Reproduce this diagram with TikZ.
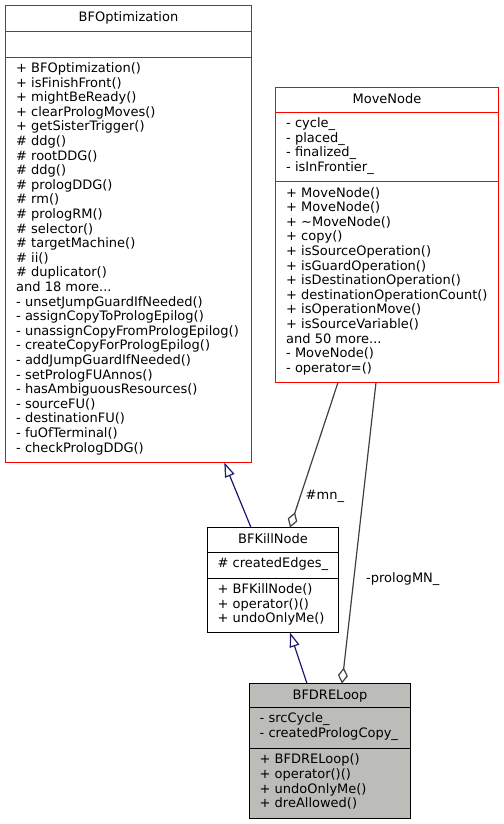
\documentclass[tikz,border=0pt]{standalone}
\usepackage{fontspec}
\setmainfont{DejaVu Sans}
\usetikzlibrary{arrows.meta,calc}
\definecolor{inhblue}{RGB}{25,25,112}
\definecolor{aggrey}{RGB}{64,64,64}
\definecolor{curfill}{RGB}{188,189,184}
\definecolor{clsred}{RGB}{255,0,0}
\newcommand\tdots{...}
\newcommand\clines[3]{%
  \foreach \t [count=\i from 0] in {#3}
    \node[txt,anchor=base west] (#1-\i) at ($(#2)+(0,14.6*\i)$) {\t};}
\begin{document}
\begin{tikzpicture}[x=1bp,y=-1bp,
  every node/.style={font=\fontsize{13bp}{14.6bp}\selectfont},
  txt/.style={inner sep=0pt},
  cls/.style={draw=clsred,line width=1.6bp,inner sep=0pt,outer sep=0pt,anchor=north west},
  clsb/.style={cls,draw=black},
  sep/.style={line width=1.6bp},
  inh/.style={draw=inhblue,line width=1.2bp,-{Triangle[open,length=14.5bp,width=10bp]}},
  agg/.style={draw=aggrey,line width=1.2bp,-{Diamond[open,length=16bp,width=10bp]}}]
\useasboundingbox (0,0) rectangle (504,824);

% BFOptimization
\node[cls,minimum width=246bp,minimum height=457bp] (bfo) at (5.5,5.5) {};
\draw[sep,clsred] ($(bfo.north west)+(0,26)$) -- ++(246,0);
\draw[sep,clsred] ($(bfo.north west)+(0,52)$) -- ++(246,0);
\node[txt,anchor=base] (bfo-title) at ($(bfo.north)+(0,16)$) {BFOptimization};
\coordinate (bfo-m) at ($(bfo.north west)+(10.5,67)$);
\clines{bfom}{bfo-m}{+ BFOptimization(),+ isFinishFront(),+ mightBeReady(),+ clearPrologMoves(),+ getSisterTrigger(),\# ddg(),\# rootDDG(),\# ddg(),\# prologDDG(),\# rm(),\# prologRM(),\# selector(),\# targetMachine(),\# ii(),\# duplicator(),and 18 more\tdots,- unsetJumpGuardIfNeeded(),- assignCopyToPrologEpilog(),- unassignCopyFromPrologEpilog(),- createCopyForPrologEpilog(),- addJumpGuardIfNeeded(),- setPrologFUAnnos(),- hasAmbiguousResources(),- sourceFU(),- destinationFU(),- fuOfTerminal(),- checkPrologDDG()}

% MoveNode
\node[cls,minimum width=223bp,minimum height=295bp] (mn) at (275.5,87.5) {};
\draw[sep,clsred] ($(mn.north west)+(0,25)$) -- ++(223,0);
\draw[sep,clsred] ($(mn.north west)+(0,94)$) -- ++(223,0);
\node[txt,anchor=base] (mn-title) at ($(mn.north)+(0,16)$) {MoveNode};
\coordinate (mn-a) at ($(mn.north west)+(10.5,40)$);
\clines{mna}{mn-a}{- cycle\_,- placed\_,- finalized\_,- isInFrontier\_}
\coordinate (mn-m) at ($(mn.north west)+(10.5,109.5)$);
\clines{mnm}{mn-m}{+ MoveNode(),+ MoveNode(),+ \textasciitilde MoveNode(),+ copy(),+ isSourceOperation(),+ isGuardOperation(),+ isDestinationOperation(),+ destinationOperationCount(),+ isOperationMove(),+ isSourceVariable(),and 50 more\tdots,- MoveNode(),- operator=()}

% BFKillNode
\node[clsb,minimum width=131bp,minimum height=105bp] (bfk) at (207.5,527.5) {};
\draw[sep] ($(bfk.north west)+(0,25)$) -- ++(131,0);
\draw[sep] ($(bfk.north west)+(0,51)$) -- ++(131,0);
\node[txt,anchor=base] (bfk-title) at ($(bfk.north)+(0,16)$) {BFKillNode};
\coordinate (bfk-a) at ($(bfk.north west)+(10,40.3)$);
\clines{bfka}{bfk-a}{\# createdEdges\_}
\coordinate (bfk-m) at ($(bfk.north west)+(10,66)$);
\clines{bfkm}{bfk-m}{+ BFKillNode(),+ operator()(),+ undoOnlyMe()}

% BFDRELoop
\node[clsb,fill=curfill,minimum width=161bp,minimum height=135bp] (bfd) at (249.5,683.5) {};
\draw[sep] ($(bfd.north west)+(0,24)$) -- ++(161,0);
\draw[sep] ($(bfd.north west)+(0,65)$) -- ++(161,0);
\node[txt,anchor=base] (bfd-title) at ($(bfd.north)+(0,16)$) {BFDRELoop};
\coordinate (bfd-a) at ($(bfd.north west)+(10,39.3)$);
\clines{bfda}{bfd-a}{- srcCycle\_,- createdPrologCopy\_}
\coordinate (bfd-m) at ($(bfd.north west)+(10,80.3)$);
\clines{bfdm}{bfd-m}{+ BFDRELoop(),+ operator()(),+ undoOnlyMe(),+ dreAllowed()}

% connectors
\draw[inh] ($(bfk.north west)+(43.5,0)$) -- ($(bfo.south west)+(218.8,0)$);
\draw[inh] ($(bfd.north west)+(57.5,0)$) -- ($(bfk.south west)+(82.5,0)$);
\draw[agg] ($(mn.south west)+(62.5,0)$) -- ($(bfk.north west)+(82.5,0)$);
\draw[agg] ($(mn.south west)+(100.5,0)$) -- ($(bfd.north west)+(92.5,0)$);
\node[txt,anchor=west] (mnlbl) at (305.5,496) {\#mn\_};
\node[txt,anchor=west] (pmnlbl) at (366,579) {-prologMN\_};
\end{tikzpicture}
\end{document}
